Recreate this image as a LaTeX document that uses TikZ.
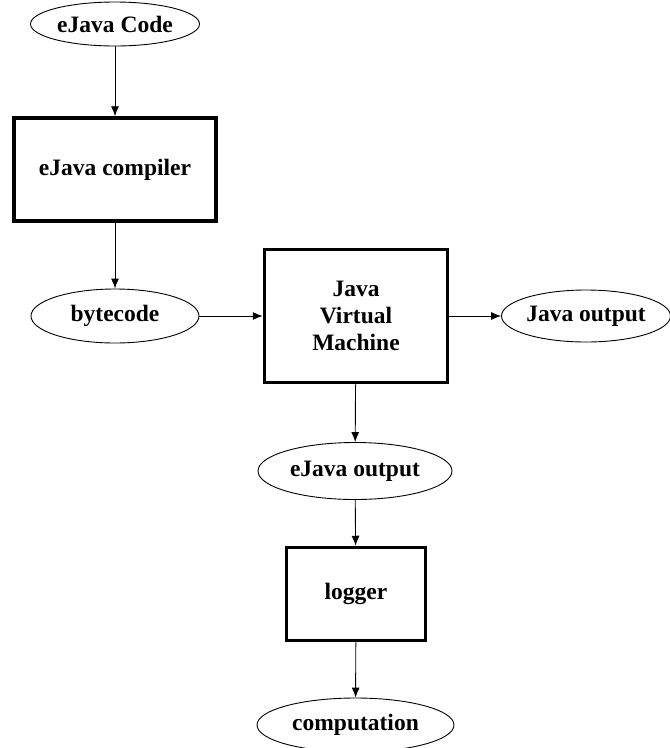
\documentclass[tikz,border=0pt]{standalone}
\usepackage{fontspec}
\setmainfont{Liberation Serif}
\usepackage{tikz}
\usetikzlibrary{shapes.geometric,arrows.meta}

\begin{document}
\begin{tikzpicture}[x=1pt, y=-1pt,
  font=\fontsize{23.5}{27}\selectfont\bfseries,
  oval/.style={draw, line width=0.9pt, ellipse, inner sep=0pt},
  block/.style={draw, line width=3.5pt, rectangle, align=center, inner sep=0pt},
  flow/.style={line width=0.9pt, -{Latex[length=10pt,width=8pt]}}]

\useasboundingbox (0,0) rectangle (670,748);

% Source
\path
(115,24) node[oval, minimum width=169pt, minimum height=44pt] (code) {eJava Code};

% Compiler
\path
(115,169.5) node[block, minimum width=202pt, minimum height=103pt] (compiler) {eJava compiler};

% Bytecode
\path
(115,316) node[oval, minimum width=168pt, minimum height=54pt] (bytecode) {bytecode};

% Virtual machine
\path
(356,316) node[block, minimum width=183pt, minimum height=133pt] (jvm) {Java\\Virtual\\Machine};

\path
(586,316) node[oval, minimum width=168pt, minimum height=52pt] (javaout) {Java output};

% eJava output
\path
(355,471) node[oval, minimum width=194pt, minimum height=57pt] (ejavaout) {eJava output};

% Logger
\path
(356,594) node[block, minimum width=139pt, minimum height=93pt] (logger) {logger};

\path
(355.5,725) node[oval, minimum width=197pt, minimum height=54pt] (computation) {computation};

% Connectors
\draw[flow] (code) -- (compiler);
\draw[flow] (compiler) -- (bytecode);
\draw[flow] (bytecode) -- (jvm);
\draw[flow] (jvm) -- (javaout);
\draw[flow] (jvm) -- (ejavaout);
\draw[flow] (ejavaout) -- (logger);
\draw[flow] (logger) -- (computation);

\end{tikzpicture}
\end{document}
